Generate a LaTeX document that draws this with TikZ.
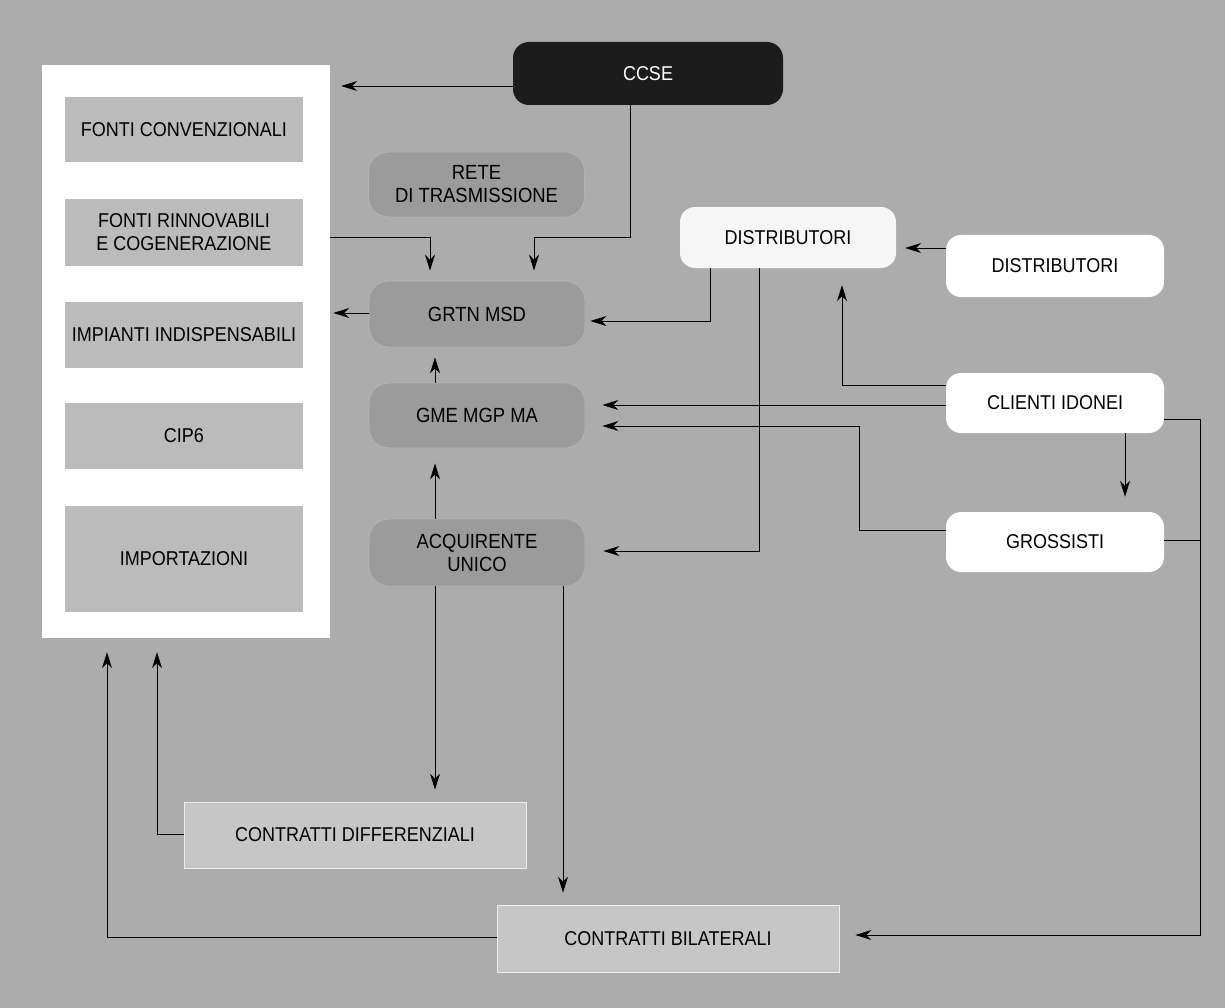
\documentclass[tikz,border=0pt]{standalone}
\usepackage{fontspec}
\setmainfont[FakeStretch=0.9]{Liberation Sans}
\usetikzlibrary{arrows.meta,calc}
\definecolor{bg}{HTML}{ACACAC}
\definecolor{leftbox}{HTML}{BBBBBB}
\definecolor{midbox}{HTML}{9B9B9B}
\definecolor{midedge}{HTML}{B2B2B2}
\definecolor{contr}{HTML}{C6C6C6}
\definecolor{ccsefill}{HTML}{1C1C1C}
\begin{document}
\begin{tikzpicture}[x=1pt,y=-1pt,
  txt/.style={font=\fontsize{20}{23}\selectfont, align=center, text=black, inner sep=0pt},
  leftb/.style={txt, fill=leftbox, minimum width=238pt},
  midb/.style={txt, font=\fontsize{20.5}{23}\selectfont, fill=midbox, draw=midedge, line width=0.8pt, rounded corners=20pt, minimum width=216pt},
  whiteb/.style={txt, fill=white, rounded corners=15pt, minimum width=218pt, minimum height=60pt},
  contrb/.style={txt, fill=contr, draw=white!85!gray, line width=0.8pt, minimum width=342pt},
  arr/.style={draw=black, line width=0.9pt, -{Stealth[length=16pt,width=10pt,inset=5pt]}},
  ln/.style={draw=black, line width=0.9pt}]
\fill[bg] (0,0) rectangle (1225,1008);
\useasboundingbox (0,0) rectangle (1225,1008);

% left panel
\node[fill=white, minimum width=288pt, minimum height=573pt, inner sep=0pt] (panel) at (186,351.5) {};
\node[leftb, minimum height=65pt] (fc) at (184,129.5) {FONTI CONVENZIONALI};
\node[leftb, minimum height=67pt] (fr) at (184,232.5) {FONTI RINNOVABILI\\E COGENERAZIONE};
\node[leftb, minimum height=66pt] (ii) at (184,335) {IMPIANTI INDISPENSABILI};
\node[leftb, minimum height=66pt] (cip) at (184,436) {CIP6};
\node[leftb, minimum height=106pt] (imp) at (184,559) {IMPORTAZIONI};

% CCSE
\node[txt, fill=ccsefill, text=white, rounded corners=16pt, minimum width=270pt, minimum height=63pt] (ccse) at (648,73.5) {CCSE};

% middle column
\node[midb, minimum height=65pt] (rete) at (476.5,184.5) {RETE\\DI TRASMISSIONE};
\node[midb, minimum height=66pt] (grtn) at (477,314) {GRTN MSD};
\node[midb, minimum height=65pt] (gme) at (477,415.5) {GME MGP MA};
\node[midb, minimum height=67pt] (acq) at (477,552.5) {ACQUIRENTE\\UNICO};

% right column
\node[whiteb, fill=white!93!gray, minimum width=216pt, minimum height=61pt] (dist1) at (788,237.5) {DISTRIBUTORI};
\node[whiteb, minimum height=62pt] (dist2) at (1055,266) {DISTRIBUTORI};
\node[whiteb] (cli) at (1055,403) {CLIENTI IDONEI};
\node[whiteb] (gro) at (1055,542) {GROSSISTI};

% contracts
\node[contrb, minimum height=66pt] (cdiff) at (355,835) {CONTRATTI DIFFERENZIALI};
\node[contrb, minimum height=67pt] (cbil) at (668,938.5) {CONTRATTI BILATERALI};

% connectors
\draw[arr, shorten >=11pt] ([yshift=-12.5pt]ccse.west) -- ([yshift=-12.5pt]ccse.west -| panel.east);
\draw[arr, shorten >=10pt] ([yshift=-4.5pt]fr.east -| panel.east) -| ([xshift=-47pt]grtn.north);
\draw[arr, shorten >=10pt] ([xshift=-18pt]ccse.south) -- ++(0,132) -| ([xshift=57pt]grtn.north);
\draw[arr, shorten >=3pt] ([yshift=1pt]grtn.west) -- ([yshift=1pt]grtn.west -| panel.east);
\draw[arr, shorten >=5pt] ([xshift=-78pt]dist1.south) |- ([yshift=-7pt]grtn.east);
\draw[arr, shorten >=9pt] ([yshift=18pt]dist2.west) -- ([yshift=18pt]dist2.west -| dist1.east);
\draw[arr, shorten >=18pt] ([xshift=-29pt]dist1.south) |- ([yshift=1.5pt]acq.east);
\draw[arr, shorten >=17pt] ([yshift=18pt]cli.west) -| ([xshift=54pt]dist1.south);
\draw[arr, shorten >=17pt] ([yshift=-2pt]cli.west) -- ([yshift=-2pt]cli.west -| gme.east);
\draw[arr, shorten >=17pt] ([yshift=12pt]gro.west) -- ++(-86,0) |- ([yshift=-10.5pt]gme.east);
\draw[arr, shorten >=15pt] ([xshift=70pt]cli.south) -- ([xshift=70pt]gro.north);
\draw[arr, shorten >=16pt] ([yshift=-16pt]cli.east) -- ++(36,0) |- ([yshift=3.5pt]cbil.east);
\draw[ln] ([yshift=2pt]gro.east) -- ++(36,0);
\draw[arr, shorten >=10pt] ([xshift=-42pt]gme.north) -- ([xshift=-42pt]grtn.south);
\draw[arr, shorten >=15pt] ([xshift=-42pt]acq.north) -- ([xshift=-42pt]gme.south);
\draw[arr, shorten >=12pt] ([xshift=-42pt]acq.south) -- ([xshift=-42pt]acq.south |- cdiff.north);
\draw[arr, shorten >=12pt] ([xshift=86pt]acq.south) -- ([xshift=86pt]acq.south |- cbil.north);
\draw[arr, shorten >=14pt] ([yshift=1pt]cdiff.west) -| ([xshift=-29pt]panel.south);
\draw[arr, shorten >=14pt] ([yshift=1.5pt]cbil.west) -| ([xshift=-79pt]panel.south);
\end{tikzpicture}
\end{document}
